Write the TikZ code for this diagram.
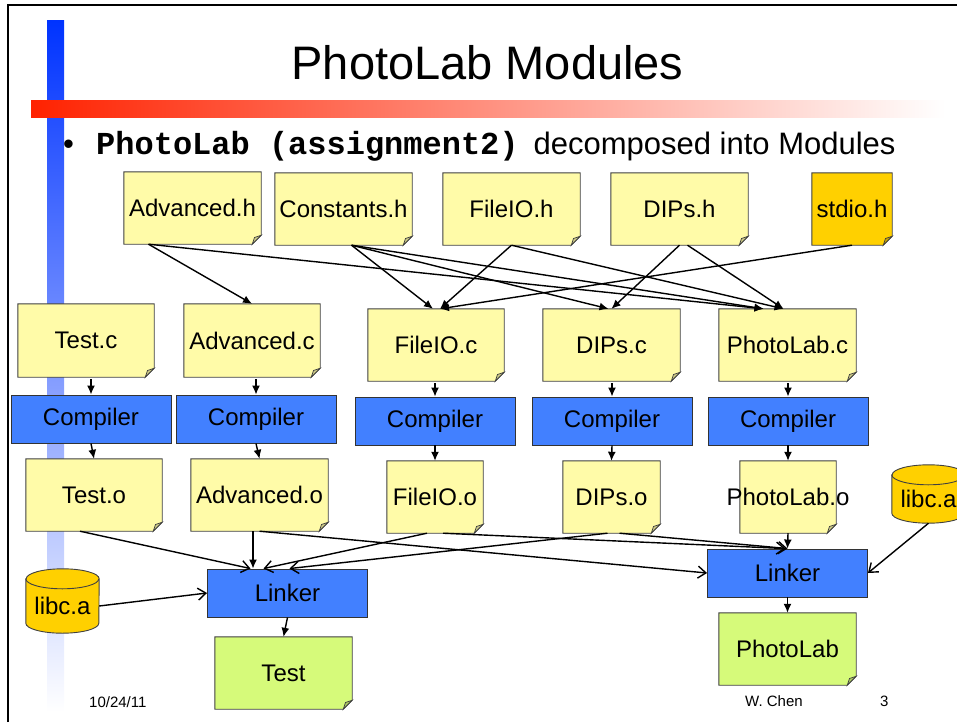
\documentclass[tikz,border=0pt]{standalone}
\usepackage{fontspec}
\setmainfont{Liberation Sans}
\setmonofont{Liberation Mono}
\usepackage{tikz}
\usetikzlibrary{arrows.meta,backgrounds}

\definecolor{noteyellow}{RGB}{255,251,168}
\definecolor{notegold}{RGB}{255,208,0}
\definecolor{notegreen}{RGB}{214,250,122}
\definecolor{toolblue}{RGB}{66,128,255}
\definecolor{barblue}{RGB}{0,51,255}
\definecolor{barred}{RGB}{255,34,0}

\tikzset{
  note/.style={minimum width=137, minimum height=72, inner sep=2pt, font=\fontsize{24}{28}\selectfont},
  tool/.style={draw=black!80, fill=toolblue, line width=0.9pt, minimum width=160, minimum height=48, inner sep=2pt, font=\fontsize{24}{28}\selectfont},
  dep/.style={-{Latex[length=9pt,width=8pt]}, line width=1.4pt},
  link/.style={-{Straight Barb[length=8pt,width=12pt]}, line width=1.4pt},
  foot/.style={font=\fontsize{15}{18}\selectfont, anchor=base west, inner sep=0pt}
}

\begin{document}
\begin{tikzpicture}[x=1pt,y=-1pt]
	\useasboundingbox (0,0) rectangle (957,722);
	\draw[line width=1.5pt] (8,722) -- (8,5) -- (957,5);
	
	\node[font=\fontsize{47}{56}\selectfont, anchor=base] (title) at (487.5,80) {PhotoLab Modules};
	\node[anchor=base west, inner sep=0pt, font=\fontsize{31}{36}\selectfont] (bullet) at (63,154)
	{\makebox[33pt][l]{\textbullet}{\ttfamily\bfseries\fontsize{32}{36}\selectfont PhotoLab (assignment2)}\hspace{15pt}decomposed into Modules};
	
	% headers
	\node[note] (advh) at (192.5,208) {Advanced.h};
	\node[note] (consh) at (343.5,209) {Constants.h};
	\node[note] (fileioh) at (511.5,209) {FileIO.h};
	\node[note] (dipsh) at (679.5,209) {DIPs.h};
	\node[note, minimum width=80] (stdioh) at (852,209) {stdio.h};
	
	% sources
	\node[note, minimum width=136, minimum height=73] (testc) at (86,340.5) {Test.c};
	\node[note, minimum width=136, minimum height=73] (advc) at (252,340.5) {Advanced.c};
	\node[note, minimum width=136] (fileioc) at (436,345) {FileIO.c};
	\node[note] (dipsc) at (611.5,345) {DIPs.c};
	\node[note] (photoc) at (787.5,345) {PhotoLab.c};
	
	% compilers
	\node[tool] (comp1) at (91,419) {Compiler};
	\node[tool] (comp2) at (256,419) {Compiler};
	\node[tool] (comp3) at (435,421) {Compiler};
	\node[tool] (comp4) at (612,421) {Compiler};
	\node[tool] (comp5) at (788,421) {Compiler};
	
	% objects
	\node[note, minimum width=136] (testo) at (94,495) {Test.o};
	\node[note] (advo) at (259.5,495) {Advanced.o};
	\node[note, minimum width=96] (fileioo) at (435,497) {FileIO.o};
	\node[note, minimum width=97] (dipso) at (611.5,497) {DIPs.o};
	\node[note, minimum width=96] (photoo) at (788,497) {\makebox[0pt]{PhotoLab.o}};
	
	% libraries, linkers, programs
	\node[note, minimum width=73, minimum height=54] (libcl) at (62.5,606) {libc.a};
	\node[note, minimum width=73, minimum height=48] (libcr) at (928.5,499) {libc.a};
	\node[tool] (linkl) at (287.5,593) {Linker};
	\node[tool] (linkr) at (787.5,573) {Linker};
	\node[note] (testx) at (283.5,673) {Test};
	\node[note] (photox) at (787.5,649) {PhotoLab};
	
	\begin{scope}[on background layer]
		\shade[top color=barblue, bottom color=white] (47,21) rectangle (64,712);
		\shade[left color=barred, right color=white] (31,101) rectangle (945,118);
		\foreach \n/\col in {advh/noteyellow, consh/noteyellow, fileioh/noteyellow, dipsh/noteyellow, stdioh/notegold,
			testc/noteyellow, advc/noteyellow, fileioc/noteyellow, dipsc/noteyellow, photoc/noteyellow,
			testo/noteyellow, advo/noteyellow, fileioo/noteyellow, dipso/noteyellow, photoo/noteyellow,
			testx/notegreen, photox/notegreen}{
			\filldraw[fill=\col, draw=black!75, line width=0.9pt] (\n.north west) -- (\n.north east) -- ([yshift=9pt]\n.south east)
			-- ([xshift=-9pt]\n.south east) -- (\n.south west) -- cycle;
			\filldraw[fill=\col!80!black, draw=black!75, line width=0.7pt] ([yshift=9pt]\n.south east)
			-- ([xshift=-6.7pt,yshift=6.7pt]\n.south east) -- ([xshift=-9pt]\n.south east) -- cycle;
		}
		\foreach \n in {libcl, libcr}{
			\filldraw[fill=notegold, draw=black!75, line width=0.9pt] (\n.north west) -- ([yshift=10pt]\n.south west)
			arc[start angle=180, end angle=360, x radius=36.5pt, y radius=10pt] -- (\n.north east)
			arc[start angle=0, end angle=180, x radius=36.5pt, y radius=10pt] -- cycle;
			\draw[black!75, line width=0.9pt] (\n.north west) arc[start angle=180, end angle=360, x radius=36.5pt, y radius=10pt];
		}
	\end{scope}
	
	% includes
	\draw[dep] ([xshift=-44pt]advh.south) -- (advc.north);
	\draw[dep] ([xshift=-44pt]advh.south) -- ([xshift=-24pt]photoc.north);
	\draw[dep] ([xshift=8pt]consh.south) -- ([xshift=-3pt]fileioc.north);
	\draw[dep] ([xshift=8pt]consh.south) -- ([xshift=-3pt]dipsc.north);
	\draw[dep] ([xshift=8pt]consh.south) -- ([xshift=-24pt]photoc.north);
	\draw[dep] (fileioh.south) -- ([xshift=4pt]fileioc.north);
	\draw[dep] (fileioh.south) -- ([xshift=-4pt]photoc.north);
	\draw[dep] (dipsh.south) -- (dipsc.north);
	\draw[dep] ([xshift=8pt]dipsh.south) -- ([xshift=-4pt]photoc.north);
	\draw[dep] (stdioh.south) -- ([xshift=4pt]fileioc.north);
	
	% compile
	\foreach \src/\comp/\obj in {testc/comp1/testo, advc/comp2/advo, fileioc/comp3/fileioo, dipsc/comp4/dipso, photoc/comp5/photoo}{
		\draw[dep, shorten <=2pt] (\comp.north |- \src.south) -- (\comp.north);
		\draw[dep] (\comp.south) -- (\obj.north);
	}
	
	% link
	\draw[link] ([xshift=-14pt]testo.south) -- ([xshift=-37pt]linkl.north);
	\draw[dep] ([xshift=-6.5pt]advo.south) -- ([xshift=-34.5pt]linkl.north);
	\draw[link] ([xshift=-8pt]fileioo.south) -- ([xshift=-24pt]linkl.north);
	\draw[link] ([xshift=-4pt]dipso.south) -- ([xshift=2pt]linkl.north);
	\draw[link] (libcl.east) -- (linkl.west);
	\draw[link] (advo.south) -- (linkr.west);
	\draw[link] ([xshift=8pt]fileioo.south) -- ([xshift=-2pt]linkr.north);
	\draw[link] ([xshift=8pt]dipso.south) -- (linkr.north);
	\draw[dep] (photoo.south) -- (linkr.north);
	\draw[link] (libcr.south) -- (linkr.east);
	\draw[dep] (linkl.south) -- (testx.north);
	\draw[dep] (linkr.south) -- (photox.north);
	
	\node[foot] (date) at (89,707) {10/24/11};
	\node[foot] (author) at (745,706) {W. Chen};
	\node[foot] (page) at (880,706) {3};
\end{tikzpicture}
\end{document}
